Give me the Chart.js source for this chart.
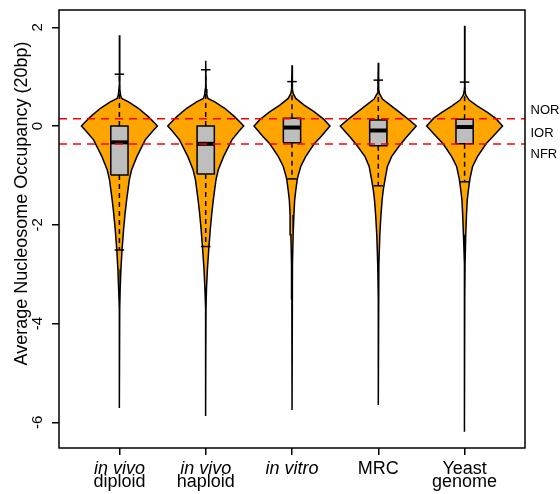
<!DOCTYPE html>
<html lang="en">

<head>
    <meta charset="UTF-8">
    <title>Average Nucleosome Occupancy</title>
    <script src="https://cdn.jsdelivr.net/npm/chart.js"></script>
    <style>
        body { margin: 0; background: #ffffff; }
    </style>
</head>

<body>
    <canvas id="grafico_violino" width="560" height="494"></canvas>
</body>

</html>

<script>
    // categories on the x axis (positions 1..5)
    var x_ticks = [1, 2, 3, 4, 5];
    var label_top = ['in vivo', 'in vivo', 'in vitro', 'MRC', 'Yeast'];
    var label_bottom = ['diploid', 'haploid', '', '', 'genome'];
    var label_italic = [true, true, true, false, false];

    var y_ticks = [-6, -4, -2, 0, 2];

    // boxplot stats per category
    var upper_whisker = [1.05, 1.14, 0.90, 0.93, 0.89];
    var q3 = [0.00, 0.00, 0.16, 0.12, 0.14];
    var median = [-0.33, -0.36, -0.03, -0.09, -0.02];
    var q1 = [-0.99, -0.97, -0.34, -0.40, -0.36];
    var lower_whisker = [-2.51, -2.44, -1.07, -1.21, -1.13];

    // violin profiles: [value, relative density], from max down to min
    var density_diploid = [[1.84, 0], [0.75, 0.01], [0.63, 0.03], [0.56, 0.06], [0.49, 0.24], [0.36, 0.5], [0.19, 0.76], [0.05, 0.94], [0, 1], [-0.1, 0.88], [-0.28, 0.68], [-0.62, 0.46], [-0.89, 0.32], [-1.09, 0.26], [-1.5, 0.19], [-1.77, 0.15], [-2.1, 0.11], [-2.5, 0.07], [-2.9, 0.04], [-3.3, 0.02], [-3.7, 0.008], [-4.5, 0.003], [-5.71, 0]];
    var density_haploid = [[1.32, 0], [0.75, 0.01], [0.63, 0.03], [0.56, 0.06], [0.49, 0.24], [0.36, 0.5], [0.19, 0.76], [0.05, 0.94], [0, 1], [-0.1, 0.88], [-0.28, 0.69], [-0.62, 0.47], [-0.89, 0.33], [-1.09, 0.27], [-1.5, 0.2], [-1.77, 0.16], [-2.1, 0.12], [-2.5, 0.08], [-2.9, 0.045], [-3.3, 0.02], [-3.7, 0.008], [-4.5, 0.003], [-5.87, 0]];
    var density_vitro = [[1.23, 0], [0.75, 0.01], [0.66, 0.03], [0.56, 0.1], [0.425, 0.32], [0.29, 0.58], [0.135, 0.84], [0, 1], [-0.216, 0.76], [-0.364, 0.58], [-0.62, 0.36], [-0.82, 0.23], [-1.07, 0.14], [-1.3, 0.1], [-1.5, 0.07], [-1.8, 0.05], [-2.2, 0.03], [-2.8, 0.012], [-3.5, 0.004], [-5.75, 0]];
    var density_mrc = [[1.28, 0], [0.75, 0.01], [0.66, 0.03], [0.547, 0.11], [0.405, 0.35], [0.27, 0.57], [0.121, 0.82], [0, 1], [-0.216, 0.75], [-0.385, 0.57], [-0.62, 0.35], [-0.82, 0.24], [-1.07, 0.18], [-1.3, 0.13], [-1.5, 0.1], [-1.8, 0.07], [-2.2, 0.04], [-2.8, 0.015], [-3.5, 0.005], [-5.65, 0]];
    var density_yeast = [[2.03, 0], [0.72, 0.01], [0.63, 0.03], [0.526, 0.12], [0.405, 0.34], [0.27, 0.61], [0.155, 0.82], [0, 1], [-0.216, 0.74], [-0.364, 0.56], [-0.62, 0.34], [-0.82, 0.21], [-1.07, 0.14], [-1.3, 0.1], [-1.5, 0.07], [-1.8, 0.05], [-2.2, 0.03], [-2.8, 0.012], [-3.5, 0.004], [-6.19, 0]];
    var densities = [density_diploid, density_haploid, density_vitro, density_mrc, density_yeast];

    // red dashed region limits and their names on the right
    var region_lines = [0.148, -0.364];
    var region_names = ['NOR', 'IOR', 'NFR'];
    var region_label_y = [0.344, -0.12, -0.547];

    var x_min = 0.3, x_max = 5.7;
    var y_min = -6.52, y_max = 2.35;
    var violin_half = 0.44;
    var box_half = 0.1;
    var staple_half = 0.055;
    var fonte = '"Liberation Sans", Arial, Helvetica, sans-serif';

    function segmento(pontos, extra) {
        var ds = {
            data: pontos,
            showLine: true,
            pointRadius: 0,
            borderColor: '#000000',
            borderWidth: 1.5,
            fill: false
        };
        for (var k in extra) ds[k] = extra[k];
        return ds;
    }

    var conjuntos = [];
    for (var i = 0; i < x_ticks.length; i++) {
        var c = x_ticks[i];
        var d = densities[i];
        var contorno = [];
        for (var k = 0; k < d.length; k++) contorno.push({ x: c + d[k][1] * violin_half, y: d[k][0] });
        for (var k = d.length - 1; k >= 0; k--) contorno.push({ x: c - d[k][1] * violin_half, y: d[k][0] });
        conjuntos.push(segmento(contorno, { fill: 'shape', backgroundColor: '#FFA500', order: 10 }));

        conjuntos.push(segmento([{ x: c, y: q3[i] }, { x: c, y: upper_whisker[i] }], { borderDash: [5, 4], order: 8 }));
        conjuntos.push(segmento([{ x: c, y: q1[i] }, { x: c, y: lower_whisker[i] }], { borderDash: [5, 4], order: 8 }));
        conjuntos.push(segmento([{ x: c - staple_half, y: upper_whisker[i] }, { x: c + staple_half, y: upper_whisker[i] }], { order: 8 }));
        conjuntos.push(segmento([{ x: c - staple_half, y: lower_whisker[i] }, { x: c + staple_half, y: lower_whisker[i] }], { order: 8 }));

        conjuntos.push(segmento([
            { x: c - box_half, y: q1[i] }, { x: c + box_half, y: q1[i] },
            { x: c + box_half, y: q3[i] }, { x: c - box_half, y: q3[i] },
            { x: c - box_half, y: q1[i] }
        ], { fill: 'shape', backgroundColor: '#BEBEBE', borderJoinStyle: 'miter', order: 6 }));

        conjuntos.push(segmento([{ x: c - box_half, y: median[i] }, { x: c + box_half, y: median[i] }], { borderWidth: 4, order: 4 }));
    }
    for (var r = 0; r < region_lines.length; r++) {
        conjuntos.push(segmento([{ x: x_min, y: region_lines[r] }, { x: x_max, y: region_lines[r] }],
            { borderColor: '#FF0000', borderDash: [8, 6], order: 1 }));
    }

    var extras = {
        id: 'extras',
        afterDraw: function (chart) {
            var ctx = chart.ctx;
            var area = chart.chartArea;
            var sx = chart.scales.x;
            var sy = chart.scales.y;
            ctx.save();
            ctx.strokeStyle = '#000000';
            ctx.lineWidth = 1.5;
            ctx.strokeRect(area.left, area.top, area.right - area.left, area.bottom - area.top);

            ctx.fillStyle = '#000000';
            ctx.textAlign = 'center';
            ctx.textBaseline = 'alphabetic';
            for (var i = 0; i < x_ticks.length; i++) {
                var px = sx.getPixelForValue(x_ticks[i]);
                ctx.font = (label_italic[i] ? 'italic ' : '') + '18px ' + fonte;
                ctx.fillText(label_top[i], px, area.bottom + 25.5);
                ctx.font = '18px ' + fonte;
                ctx.fillText(label_bottom[i], px, area.bottom + 38.5);
            }

            ctx.textAlign = 'left';
            ctx.font = '13px ' + fonte;
            for (var r = 0; r < region_names.length; r++) {
                ctx.fillText(region_names[r], area.right + 5.5, sy.getPixelForValue(region_label_y[r]) + 4.6);
            }

            ctx.translate(27, (area.top + area.bottom) / 2 - 25.5);
            ctx.rotate(-Math.PI / 2);
            ctx.textAlign = 'center';
            ctx.font = '18px ' + fonte;
            ctx.fillText('Average Nucleosome Occupancy (20bp)', 0, 0);
            ctx.restore();
        }
    };

    var ctx = document.getElementById('grafico_violino');
    var grafico = new Chart(ctx, {
        type: 'scatter',
        data: { datasets: conjuntos },
        options: {
            responsive: false,
            animation: false,
            events: [],
            layout: { padding: { left: 0, right: 35, top: 10, bottom: 0 } },
            plugins: {
                legend: { display: false },
                tooltip: { enabled: false }
            },
            scales: {
                x: {
                    type: 'linear',
                    min: x_min,
                    max: x_max,
                    afterBuildTicks: function (s) { s.ticks = x_ticks.map(function (v) { return { value: v }; }); },
                    afterFit: function (s) { s.height = 46; s.paddingLeft = 0; s.paddingRight = 0; },
                    ticks: { display: false },
                    border: { display: false },
                    grid: { drawOnChartArea: false, drawTicks: true, tickLength: 7, color: '#000000', lineWidth: 1.5 }
                },
                y: {
                    type: 'linear',
                    min: y_min,
                    max: y_max,
                    afterBuildTicks: function (s) { s.ticks = y_ticks.map(function (v) { return { value: v }; }); },
                    afterFit: function (s) { s.width = 59; s.paddingTop = 0; s.paddingBottom = 0; },
                    ticks: {
                        color: '#000000',
                        font: { size: 15, family: fonte },
                        minRotation: 90,
                        maxRotation: 90,
                        crossAlign: 'center',
                        padding: 7
                    },
                    border: { display: false },
                    grid: { drawOnChartArea: false, drawTicks: true, tickLength: 7, color: '#000000', lineWidth: 1.5 }
                }
            }
        },
        plugins: [extras]
    });
</script>
